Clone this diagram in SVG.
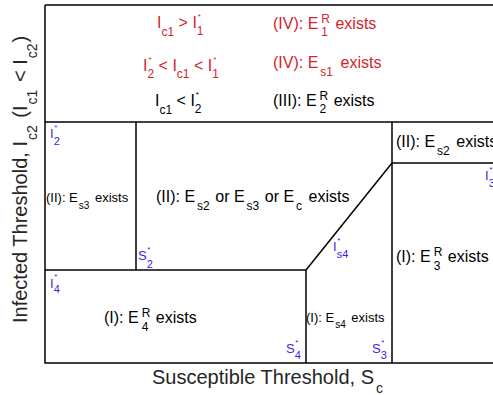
<svg xmlns="http://www.w3.org/2000/svg" width="493" height="395" viewBox="0 0 493 395">
<style>
text{font-family:"Liberation Sans",Arial,Helvetica,sans-serif}
.f16{font-size:16px}
.f13{font-size:13px}
.f20{font-size:20px;fill:#262626}
.s12{font-size:12px}
.s10{font-size:10px}
.s11{font-size:11px}
.s14{font-size:14px}
.s8{font-size:8px}
.red{fill:#d3242c}
.blk{fill:#000}
.blue{fill:#3b1ee6}
.ln{fill:none;stroke:#000;stroke-width:1.5}
</style>
<rect width="493" height="395" fill="#fff"/>
<g id="connectors" class="ln">
<path d="M45,5H493M45,5V363.5M44.3,363H493"/>
<path d="M45,122H493"/>
<path d="M136,122V270"/>
<path d="M45,270H306"/>
<path d="M306,270V363"/>
<path d="M306,270L392,163"/>
<path d="M392,122V363"/>
<path d="M392,163H493"/>
</g>
<g id="legend">
<text class="f16 red" x="157" y="28">I<tspan class="s12" dy="8">c1</tspan><tspan dy="-8"> &gt; I</tspan><tspan class="s8" dx="1" dy="-9">*</tspan><tspan class="s12" dx="-4.1" dy="16">1</tspan></text>
<text class="f16 red" x="273" y="29">(IV): E<tspan class="s12" dx="3" dy="-6">R</tspan><tspan class="s12" dx="-8.7" dy="13">1</tspan><tspan dx="3" dy="-7"> exists</tspan></text>
<text class="f16 red" x="143" y="71">I<tspan class="s8" dx="1" dy="-9">*</tspan><tspan class="s12" dx="-4.1" dy="16">2</tspan><tspan dy="-7"> &lt; I</tspan><tspan class="s12" dy="7">c1</tspan><tspan dy="-7"> &lt; I</tspan><tspan class="s8" dx="1" dy="-9">*</tspan><tspan class="s12" dx="-4.1" dy="16">1</tspan></text>
<text class="f16 red" x="273" y="68">(IV): E<tspan class="s12" dx="2" dy="8">s1</tspan><tspan dx="3" dy="-8"> exists</tspan></text>
<text class="f16 blk" x="155" y="106">I<tspan class="s12" dy="8">c1</tspan><tspan dy="-8"> &lt; I</tspan><tspan class="s8" dx="1" dy="-9">*</tspan><tspan class="s12" dx="-4.1" dy="16">2</tspan></text>
<text class="f16 blk" x="273" y="106">(III): E<tspan class="s12" dx="3" dy="-6">R</tspan><tspan class="s12" dx="-8.7" dy="13">2</tspan><tspan dx="3" dy="-7"> exists</tspan></text>
</g>
<g id="region-Es3">
<text class="f13 blk" x="46" y="202">(II): E<tspan class="s10" dx="1" dy="7">s3</tspan><tspan dx="2" dy="-7"> exists</tspan></text>
</g>
<g id="region-II-mid">
<text class="f16 blk" x="156" y="202">(II): E<tspan class="s12" dx="2" dy="8">s2</tspan><tspan dx="1" dy="-8"> or E</tspan><tspan class="s12" dx="2" dy="8">s3</tspan><tspan dx="1" dy="-8"> or E</tspan><tspan class="s12" dx="2" dy="8">c</tspan><tspan dx="2" dy="-8"> exists</tspan></text>
</g>
<g id="region-Es2">
<text class="f16 blk" x="396" y="147">(II): E<tspan class="s12" dx="2" dy="8">s2</tspan><tspan dx="2" dy="-8"> exists</tspan></text>
</g>
<g id="region-E3R">
<text class="f16 blk" x="396" y="262">(I): E<tspan class="s12" dx="3" dy="-6">R</tspan><tspan class="s12" dx="-8.7" dy="14">3</tspan><tspan dx="3" dy="-8"> exists</tspan></text>
</g>
<g id="region-E4R">
<text class="f16 blk" x="104" y="323">(I): E<tspan class="s12" dx="3" dy="-6">R</tspan><tspan class="s12" dx="-8.7" dy="14">4</tspan><tspan dx="3" dy="-8"> exists</tspan></text>
</g>
<g id="region-Es4">
<text class="f13 blk" x="306" y="322">(I): E<tspan class="s10" dx="1" dy="6">s4</tspan><tspan dx="2" dy="-6"> exists</tspan></text>
</g>
<g id="thresholds">
<text class="f13 blue" x="50" y="138">I<tspan class="s8" dx="0.5" dy="-8.4">*</tspan><tspan class="s11" dx="-3.6" dy="15.4">2</tspan></text>
<text class="f13 blue" x="138" y="260">S<tspan class="s8" dx="0.5" dy="-8.4">*</tspan><tspan class="s11" dx="-3.6" dy="16.4">2</tspan></text>
<text class="f13 blue" x="50" y="288">I<tspan class="s8" dx="0.5" dy="-9">*</tspan><tspan class="s11" dx="-3.6" dy="14">4</tspan></text>
<text class="f13 blue" x="333" y="251">I<tspan class="s8" dx="0.5" dy="-8.4">*</tspan><tspan class="s11" dx="-3.6" dy="15.4">s4</tspan></text>
<text class="f13 blue" x="485" y="180">I<tspan class="s8" dx="0.5" dy="-8.4">*</tspan><tspan class="s11" dx="-3.6" dy="15.4">3</tspan></text>
<text class="f13 blue" x="286" y="353">S<tspan class="s8" dx="0.5" dy="-8.4">*</tspan><tspan class="s11" dx="-3.6" dy="14.4">4</tspan></text>
<text class="f13 blue" x="372" y="353">S<tspan class="s8" dx="0.5" dy="-8.4">*</tspan><tspan class="s11" dx="-3.6" dy="14.4">3</tspan></text>
</g>
<g id="axes-labels">
<text class="f20" x="152" y="384">Susceptible Threshold, S<tspan class="s14" dx="2" dy="9">c</tspan></text>
<text class="f20" transform="translate(27,323) rotate(-90)">Infected Threshold, I<tspan class="s14" dx="1" dy="10">c2</tspan><tspan dx="2" dy="-10"> (I</tspan><tspan class="s14" dx="1" dy="10">c1</tspan><tspan dx="2" dy="-10"> &lt; I</tspan><tspan class="s14" dx="1" dy="10">c2</tspan><tspan dx="1" dy="-10">)</tspan></text>
</g>
</svg>
